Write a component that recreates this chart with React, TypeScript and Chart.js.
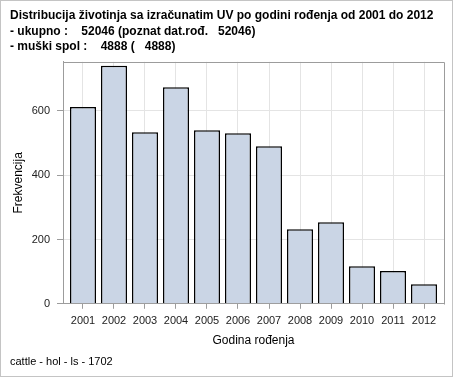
import React, { useEffect, useRef } from "react";
import { Chart, registerables } from "chart.js";

Chart.register(...registerables);

const years = [2001, 2002, 2003, 2004, 2005, 2006, 2007, 2008, 2009, 2010, 2011, 2012];
const counts = [612, 741, 534, 674, 540, 531, 490, 232, 254, 117, 102, 61];
const yTicks = [0, 200, 400, 600];
const yMax = 753;
const titleLines = [
  "Distribucija životinja sa izračunatim UV po godini rođenja od 2001 do 2012",
  "- ukupno :    52046 (poznat dat.rođ.   52046)",
  "- muški spol :    4888 (   4888)",
];
const footerText = "cattle - hol - ls - 1702";
const xTitle = "Godina rođenja";
const yTitle = "Frekvencija";

const FONT = "'Liberation Sans', Arial, sans-serif";

const framePlugin = {
  id: "frame",
  afterDraw(chart: any) {
    const { ctx, chartArea, width, height } = chart;
    ctx.save();
    ctx.lineWidth = 1;
    ctx.strokeStyle = "#9c9c9c";
    const t = Math.round(chartArea.top) + 0.5;
    const r = Math.round(chartArea.right) + 0.5;
    const l = Math.round(chartArea.left) + 0.5;
    const b = Math.round(chartArea.bottom) + 0.5;
    ctx.beginPath();
    ctx.moveTo(l, t);
    ctx.lineTo(r, t);
    ctx.lineTo(r, b);
    ctx.stroke();
    ctx.strokeStyle = "#c4c4c4";
    ctx.strokeRect(0.5, 0.5, width - 2, height - 2);
    ctx.restore();
  },
};

export default function App() {
  const ref = useRef<HTMLCanvasElement>(null);

  useEffect(() => {
    if (!ref.current) return;
    document.body.style.margin = "0";
    Chart.defaults.font.family = FONT;
    const chart = new Chart(ref.current, {
      type: "bar",
      data: {
        datasets: [
          {
            data: years.map((y, i) => ({ x: y, y: counts[i] })),
            backgroundColor: "#cad5e5",
            borderColor: "#000000",
            borderWidth: 1.5,
            barPercentage: 0.84,
            categoryPercentage: 1,
          },
        ],
      },
      options: {
        responsive: false,
        animation: false,
        layout: { padding: { top: 0, right: 10, bottom: 0, left: 10 } },
        plugins: {
          legend: { display: false },
          tooltip: { enabled: false },
          title: {
            display: true,
            text: titleLines,
            align: "start",
            color: "#000",
            font: { size: 12, weight: "bold", family: FONT, lineHeight: 1.3 },
            padding: { top: 8, bottom: 7 },
          },
          subtitle: {
            display: true,
            position: "bottom",
            text: footerText,
            align: "start",
            color: "#000",
            font: { size: 11, family: FONT, lineHeight: 1.2 },
            padding: { top: 2, bottom: 9 },
          },
        },
        scales: {
          x: {
            type: "linear",
            offset: false,
            min: 2000.355,
            max: 2012.645,
            afterFit(scale: any) {
              scale.height = 50;
            },
            afterBuildTicks(scale: any) {
              scale.ticks = years.map((v) => ({ value: v }));
            },
            ticks: {
              color: "#222",
              font: { size: 11, family: FONT },
              padding: 6,
              maxRotation: 0,
              autoSkip: false,
              callback: (v: any) => String(v),
            },
            grid: {
              offset: false,
              color: "#e4e4e4",
              tickColor: "#9c9c9c",
              tickLength: 5,
            },
            border: { color: "#9c9c9c" },
            title: {
              display: true,
              text: xTitle,
              color: "#000",
              font: { size: 12, family: FONT },
              padding: { top: 0, bottom: 6 },
            },
          },
          y: {
            min: 0,
            max: yMax,
            afterFit(scale: any) {
              scale.width = 53;
            },
            afterBuildTicks(scale: any) {
              scale.ticks = yTicks.map((v) => ({ value: v }));
            },
            ticks: {
              color: "#222",
              font: { size: 11, family: FONT },
              padding: 7,
              callback: (v: any) => String(v),
            },
            grid: {
              color: (c: any) => (c.tick && c.tick.value === 0 ? "rgba(0,0,0,0)" : "#e4e4e4"),
              tickColor: "#9c9c9c",
              tickLength: 6,
            },
            border: { color: "#9c9c9c" },
            title: {
              display: true,
              text: yTitle,
              color: "#000",
              font: { size: 12, family: FONT },
              padding: { top: 1, bottom: 0 },
            },
          },
        },
      } as any,
      plugins: [framePlugin],
    });
    return () => chart.destroy();
  }, []);

  return (
    <div style={{ position: "fixed", left: 0, top: 0, width: 454, height: 378, background: "#fff" }}>
      <canvas ref={ref} width={454} height={378} />
    </div>
  );
}
